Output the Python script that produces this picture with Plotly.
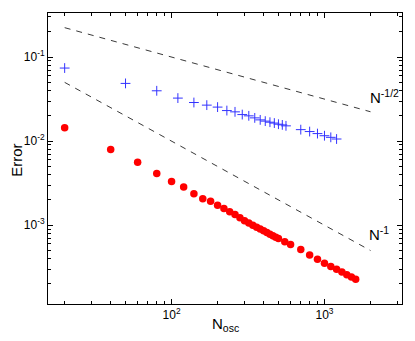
import plotly.graph_objects as go

# blue "+" series
n_blue = [20, 50, 80, 110, 140, 170, 200, 230, 260, 290, 320, 350, 380, 410,
          440, 470, 500, 530, 560, 700, 800, 900, 1000, 1100, 1200]
err_blue = [0.074, 0.0486, 0.0397, 0.0325, 0.0288, 0.0268, 0.0254, 0.0231,
            0.0223, 0.0207, 0.0200, 0.0189, 0.0179, 0.0173, 0.0168, 0.0164,
            0.0159, 0.0156, 0.0152, 0.0137, 0.0130, 0.0123, 0.0116, 0.0111,
            0.0106]

# red dot series
n_red = [20, 40, 60, 80, 100, 120, 140, 160, 180, 200, 220, 240, 260, 280,
         300, 320, 340, 360, 380, 400, 420, 440, 460, 480, 500, 550, 600,
         700, 800, 900, 1000, 1100, 1200, 1300, 1400, 1500, 1600]
err_red = [0.0144, 0.00794, 0.00561, 0.00411, 0.0033, 0.00285, 0.00236,
           0.00207, 0.00193, 0.00173, 0.00158, 0.00145, 0.00134, 0.00123,
           0.00113, 0.00106, 0.00100, 0.000949, 0.000901, 0.000858, 0.000819,
           0.000783, 0.00075, 0.00072, 0.000693, 0.000638, 0.000589,
           0.000513, 0.000443, 0.000393, 0.000353, 0.000322, 0.000299,
           0.000278, 0.000258, 0.000243, 0.000228]

# reference slopes
n_ref = [20, 2000]
ref_half = [0.2236, 0.02236]   # N^-1/2
ref_one = [0.05, 0.0005]       # N^-1

x_ticks = [100, 1000]
x_labels = ["10<sup>2</sup>", "10<sup>3</sup>"]
y_ticks = [0.001, 0.01, 0.1]
y_labels = ["10<sup>-3</sup>", "10<sup>-2</sup>", "10<sup>-1</sup>"]

x_minor = [m * 10 ** e for e in (1, 2, 3) for m in range(2, 10)]
y_minor = [m * 10.0 ** e for e in (-4, -3, -2, -1) for m in range(2, 10)]

fig = go.Figure()

dash = dict(color="#3a3a3a", width=1, dash="6px,6px")
fig.add_trace(go.Scatter(x=n_ref, y=ref_half, mode="lines", line=dash))
fig.add_trace(go.Scatter(x=n_ref, y=ref_one, mode="lines", line=dash))

fig.add_trace(go.Scatter(
    x=n_blue, y=err_blue, mode="markers",
    marker=dict(symbol="cross-thin", size=7, line=dict(color="#3333ff", width=1)),
))
fig.add_trace(go.Scatter(
    x=n_red, y=err_red, mode="markers",
    marker=dict(symbol="circle", size=7.5, color="#ff0000"),
))

fig.add_annotation(x=3.285, y=-1.47, text="N<sup>-1/2</sup>", showarrow=False,
                   xanchor="left", yanchor="middle", font=dict(size=15))
fig.add_annotation(x=3.275, y=-3.1, text="N<sup>-1</sup>", showarrow=False,
                   xanchor="left", yanchor="middle", font=dict(size=15))

# axis titles placed by hand so the margins stay fixed
fig.add_annotation(x=0.5, y=-0.03, xref="paper", yref="paper",
                   text="N<sub>osc</sub>", showarrow=False,
                   xanchor="center", yanchor="top", font=dict(size=15))
fig.add_annotation(x=-0.088, y=0.495, xref="paper", yref="paper",
                   text="Error", textangle=-90, showarrow=False,
                   xanchor="center", yanchor="middle", font=dict(size=15))

axis_common = dict(
    showline=True, linecolor="black", linewidth=1, mirror="allticks",
    ticks="inside", ticklen=5, tickcolor="black", showgrid=False,
    zeroline=False, tickfont=dict(size=12, color="black"), automargin=False,
)

fig.update_xaxes(
    type="log", range=[1.192, 3.507], tickmode="array",
    tickvals=x_ticks, ticktext=x_labels,
    minor=dict(tickmode="array", tickvals=x_minor, ticks="inside", ticklen=3,
               tickcolor="black", showgrid=False),
    **axis_common,
)
fig.update_yaxes(
    type="log", range=[-3.937, -0.476], tickmode="array",
    tickvals=y_ticks, ticktext=y_labels,
    minor=dict(tickmode="array", tickvals=y_minor, ticks="inside", ticklen=3,
               tickcolor="black", showgrid=False),
    **axis_common,
)

# page body adds an 8px offset, so the figure is a bit smaller than the window
fig.update_layout(
    width=407, height=333,
    margin=dict(l=40, r=13, t=5, b=37),
    paper_bgcolor="white", plot_bgcolor="white",
    showlegend=False,
    font=dict(family="Liberation Sans, Arial, sans-serif", color="black"),
)

fig.write_html("out.html")
